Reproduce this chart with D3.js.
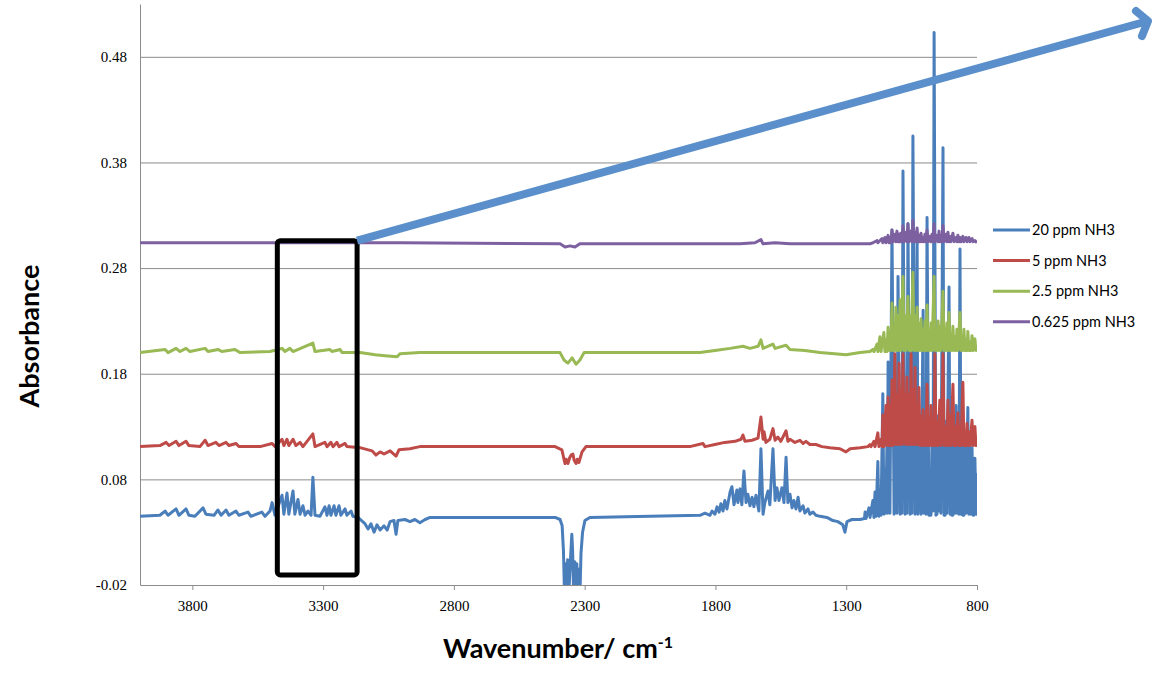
<!DOCTYPE html>
<html>
<head>
<meta charset="utf-8">
<script src="https://d3js.org/d3.v7.min.js"></script>
<style>
  body { margin: 0; background: #fff; }
  svg { display: block; }
</style>
</head>
<body>
<script>
// axis ticks
const xTicks = [3800, 3300, 2800, 2300, 1800, 1300, 800];
const yTicks = [-0.02, 0.08, 0.18, 0.28, 0.38, 0.48];

const seriesNames = ["20 ppm NH3", "5 ppm NH3", "2.5 ppm NH3", "0.625 ppm NH3"];
const seriesColors = ["#4A7EBB", "#BE4B48", "#98B954", "#7D60A0"];

// [wavenumber, absorbance]
const nh3_20 = [
  [4000,0.045],[3924,0.046],[3904,0.050],[3893,0.046],[3862,0.052],[3851,0.046],[3824,0.052],[3813,0.046],
  [3790,0.045],[3759,0.053],[3748,0.047],[3717,0.046],[3702,0.051],[3690,0.046],[3671,0.051],[3660,0.046],
  [3633,0.050],[3622,0.046],[3587,0.049],[3576,0.045],[3534,0.049],[3522,0.045],[3503,0.050],[3495,0.058],
  [3484,0.046],[3457,0.065],[3450,0.047],[3438,0.067],[3431,0.047],[3415,0.069],[3408,0.047],[3396,0.061],
  [3388,0.047],[3377,0.055],[3369,0.046],[3358,0.050],[3346,0.046],[3339,0.082],[3331,0.046],[3312,0.045],
  [3293,0.054],[3285,0.046],[3277,0.055],[3270,0.046],[3258,0.055],[3251,0.046],[3239,0.055],[3232,0.046],
  [3216,0.052],[3209,0.046],[3193,0.050],[3186,0.045],[3167,0.044],[3140,0.038],[3128,0.033],[3117,0.038],
  [3105,0.030],[3094,0.037],[3082,0.032],[3067,0.036],[3055,0.032],[3044,0.040],[3029,0.041],[3021,0.028],
  [3014,0.041],[2987,0.042],[2968,0.040],[2949,0.042],[2930,0.039],[2910,0.042],[2891,0.044],[2624,0.044],
  [2413,0.044],[2394,0.042],[2386,0.036],[2381,0.012],[2377,-0.03],[2373,0.000],[2369,-0.03],[2365,0.004],
  [2361,-0.03],[2357,-0.01],[2353,0.010],[2349,0.028],[2346,0.012],[2342,-0.03],[2338,0.002],[2334,-0.03],
  [2330,0.000],[2326,-0.03],[2322,-0.005],[2318,-0.03],[2314,0.010],[2308,0.030],[2299,0.041],[2280,0.044],
  [2050,0.045],[1859,0.046],[1840,0.048],
  [1821,0.046],[1813,0.050],[1802,0.047],[1794,0.054],[1786,0.049],[1779,0.057],[1771,0.050],[1764,0.060],
  [1756,0.052],[1744,0.068],[1737,0.073],[1729,0.056],[1718,0.070],[1714,0.058],[1706,0.071],[1699,0.056],
  [1691,0.088],[1683,0.058],[1676,0.066],[1668,0.055],[1660,0.063],[1653,0.054],[1645,0.065],[1634,0.050],
  [1626,0.109],[1618,0.047],[1611,0.058],[1599,0.069],[1592,0.056],[1580,0.109],[1572,0.060],[1565,0.072],
  [1557,0.060],[1546,0.072],[1538,0.058],[1530,0.101],[1523,0.058],[1515,0.066],[1507,0.053],[1500,0.060],
  [1492,0.052],[1484,0.063],[1477,0.050],[1465,0.055],[1458,0.048],[1446,0.052],[1439,0.047],[1427,0.049],
  [1416,0.046],[1400,0.045],[1374,0.044],[1351,0.041],[1332,0.040],[1313,0.037],[1305,0.030],[1297,0.040],
  [1278,0.042],[1247,0.042],[1230,0.043],[1228,0.049],[1224,0.043],[1213,0.053],[1209,0.044],[1198,0.060],
  [1194,0.044],[1190,0.068],[1186,0.045],[1179,0.097],[1175,0.045],[1171,0.070],[1167,0.046],[1160,0.161],
  [1156,0.047],[1152,0.090],[1148,0.048],[1144,0.120],[1142,0.048],
  [1140,0.191],[1133,0.048],[1125,0.316],[1117,0.047],[1114,0.140],[1106,0.048],[1102,0.272],[1094,0.047],
  [1091,0.150],[1087,0.048],[1083,0.372],[1075,0.047],[1072,0.155],[1068,0.048],[1064,0.322],[1056,0.047],
  [1052,0.160],[1049,0.048],[1045,0.405],[1037,0.047],[1029,0.313],[1026,0.047],[1022,0.140],[1014,0.047],
  [1006,0.240],[1003,0.048],[999,0.130],[995,0.047],[991,0.328],[984,0.046],[976,0.046],[972,0.120],
  [968,0.050],[964,0.503],[957,0.046],[953,0.047],[949,0.140],[945,0.050],[942,0.145],[938,0.048],
  [930,0.394],[926,0.046],[922,0.046],[919,0.135],[915,0.048],[907,0.262],[903,0.047],[900,0.125],
  [896,0.046],[892,0.046],[888,0.130],[884,0.048],[880,0.150],[877,0.048],[873,0.125],[869,0.047],
  [865,0.298],[861,0.047],[857,0.120],[854,0.046],[850,0.046],[846,0.125],[842,0.048],[835,0.148],
  [831,0.047],[827,0.115],[823,0.047],[819,0.110],[815,0.046],[812,0.046],[808,0.100],[804,0.047],[800,0.086]
];

const nh3_5 = [
  [4000,0.111],[3924,0.112],[3900,0.115],[3889,0.112],[3862,0.116],[3851,0.112],[3824,0.116],[3813,0.112],
  [3771,0.111],[3751,0.117],[3740,0.112],[3710,0.115],[3698,0.112],[3671,0.115],[3660,0.112],[3633,0.114],
  [3622,0.111],[3541,0.111],[3495,0.114],[3484,0.111],[3457,0.118],[3450,0.112],[3438,0.118],[3431,0.112],
  [3415,0.118],[3404,0.112],[3388,0.115],[3377,0.111],[3339,0.123],[3331,0.111],[3293,0.115],[3285,0.111],
  [3270,0.115],[3262,0.111],[3247,0.115],[3239,0.111],[3216,0.114],[3209,0.111],[3159,0.110],[3113,0.107],
  [3098,0.103],[3082,0.106],[3067,0.104],[3044,0.107],[3021,0.102],[3010,0.108],[2968,0.109],[2930,0.111],
  [2413,0.111],[2387,0.108],[2379,0.099],[2375,0.095],[2371,0.099],[2364,0.095],[2358,0.100],[2352,0.103],
  [2345,0.104],[2340,0.098],[2333,0.095],[2328,0.099],[2322,0.096],[2310,0.106],[2295,0.111],
  [1898,0.111],[1848,0.114],[1840,0.111],[1802,0.113],[1764,0.115],[1725,0.116],
  [1702,0.118],[1695,0.122],[1687,0.116],[1660,0.117],[1637,0.119],[1626,0.139],[1618,0.118],[1614,0.125],
  [1607,0.115],[1592,0.118],[1580,0.128],[1572,0.117],[1561,0.120],[1550,0.116],[1530,0.126],[1523,0.116],
  [1515,0.118],[1496,0.115],[1477,0.117],[1465,0.114],[1454,0.116],[1439,0.113],[1416,0.113],[1393,0.111],
  [1362,0.110],[1324,0.109],[1301,0.106],[1285,0.109],[1247,0.110],[1217,0.111],[1209,0.113],[1205,0.111],
  [1194,0.116],[1190,0.111],[1179,0.124],[1175,0.111],[1167,0.118],[1163,0.111],[1160,0.141],[1156,0.111],
  [1148,0.150],[1144,0.112],[1140,0.158],[1136,0.112],[1133,0.150],[1129,0.112],[1125,0.174],[1121,0.112],
  [1117,0.150],[1114,0.199],[1110,0.113],[1106,0.160],[1102,0.113],[1098,0.190],[1094,0.113],[1091,0.165],
  [1087,0.113],[1083,0.199],[1079,0.114],[1075,0.160],[1072,0.113],[1068,0.177],[1064,0.113],[1060,0.160],
  [1056,0.113],[1052,0.199],[1049,0.113],[1045,0.165],[1041,0.113],[1037,0.186],[1033,0.113],[1029,0.150],
  [1026,0.113],[1022,0.167],[1018,0.112],[1014,0.140],[1010,0.112],[1006,0.146],[1003,0.112],[999,0.135],
  [995,0.112],[991,0.170],[987,0.112],[984,0.130],[980,0.112],[976,0.150],[972,0.112],[968,0.135],
  [964,0.112],[961,0.199],[957,0.112],[953,0.135],[949,0.112],[942,0.155],[938,0.112],[934,0.140],
  [930,0.199],[926,0.112],[919,0.130],[915,0.112],[911,0.155],[907,0.112],[903,0.140],[900,0.112],
  [892,0.170],[888,0.112],[884,0.130],[880,0.112],[873,0.143],[869,0.112],[865,0.130],[861,0.112],
  [854,0.172],[850,0.112],[846,0.125],[842,0.112],[838,0.133],[835,0.112],[831,0.125],[827,0.112],
  [819,0.136],[815,0.112],[812,0.128],[808,0.130],[804,0.112],[800,0.120]
];

const nh3_2_5 = [
  [4000,0.200],[3904,0.203],[3893,0.200],[3862,0.204],[3847,0.201],[3824,0.204],[3809,0.201],[3751,0.204],
  [3740,0.201],[3702,0.203],[3687,0.201],[3637,0.203],[3618,0.200],[3503,0.201],[3457,0.204],[3446,0.201],
  [3427,0.204],[3415,0.201],[3339,0.209],[3331,0.201],[3274,0.203],[3266,0.201],[3235,0.203],[3228,0.200],
  [3159,0.200],[3101,0.198],[3063,0.197],[3017,0.196],[3006,0.199],[2930,0.200],[2394,0.200],[2379,0.193],
  [2364,0.190],[2348,0.195],[2333,0.189],[2318,0.193],[2302,0.200],[1859,0.200],[1802,0.202],[1744,0.204],
  [1695,0.206],[1668,0.204],[1637,0.206],[1626,0.212],[1618,0.204],[1580,0.208],[1572,0.204],[1530,0.207],
  [1515,0.203],[1458,0.202],[1400,0.200],[1301,0.198],[1247,0.200],[1209,0.201],[1198,0.203],[1194,0.201],
  [1182,0.208],[1179,0.201],[1171,0.215],[1167,0.201],[1156,0.219],[1152,0.201],[1148,0.212],[1144,0.201],
  [1140,0.224],[1136,0.202],[1133,0.220],[1129,0.202],[1125,0.247],[1121,0.202],[1117,0.225],[1114,0.202],
  [1110,0.243],[1106,0.202],[1102,0.235],[1098,0.202],[1094,0.250],[1091,0.202],[1083,0.272],[1079,0.202],
  [1075,0.235],[1072,0.202],[1064,0.253],[1060,0.202],[1056,0.235],[1052,0.202],[1045,0.276],[1041,0.202],
  [1037,0.235],[1033,0.202],[1029,0.243],[1026,0.202],[1022,0.228],[1018,0.202],[1014,0.232],[1010,0.202],
  [1006,0.222],[1003,0.202],[999,0.230],[995,0.202],[991,0.245],[987,0.202],[984,0.220],[980,0.202],
  [976,0.228],[972,0.202],[964,0.272],[961,0.202],[957,0.222],[953,0.202],[949,0.230],[945,0.202],
  [942,0.225],[938,0.202],[930,0.258],[926,0.202],[922,0.222],[919,0.202],[915,0.228],[911,0.202],
  [907,0.238],[903,0.202],[900,0.218],[896,0.202],[892,0.225],[888,0.202],[884,0.215],[880,0.202],
  [877,0.222],[873,0.202],[865,0.238],[861,0.202],[857,0.215],[854,0.202],[850,0.222],[846,0.202],
  [842,0.212],[838,0.202],[835,0.220],[831,0.202],[827,0.210],[823,0.202],[819,0.216],[815,0.202],
  [812,0.210],[808,0.213],[804,0.202],[800,0.205]
];

const nh3_0_625 = [
  [4000,0.304],[3006,0.304],[2394,0.303],[2375,0.300],[2356,0.301],[2337,0.300],[2318,0.303],[1706,0.303],
  [1649,0.304],[1626,0.307],[1618,0.303],[1572,0.304],[1515,0.303],[1209,0.303],[1198,0.304],[1182,0.306],
  [1179,0.304],[1163,0.308],[1160,0.304],[1152,0.309],[1148,0.304],[1140,0.311],[1136,0.304],[1133,0.309],
  [1129,0.304],[1125,0.316],[1121,0.305],[1114,0.312],[1110,0.305],[1106,0.315],[1102,0.305],[1098,0.312],
  [1094,0.305],[1091,0.313],[1087,0.305],[1083,0.320],[1079,0.305],[1072,0.314],[1068,0.305],[1064,0.322],
  [1060,0.305],[1052,0.315],[1049,0.305],[1045,0.325],[1041,0.305],[1037,0.314],[1033,0.305],[1029,0.318],
  [1026,0.305],[1022,0.311],[1018,0.305],[1014,0.313],[1010,0.305],[1006,0.309],[1003,0.305],[999,0.312],
  [995,0.305],[991,0.316],[987,0.305],[980,0.310],[976,0.305],[972,0.312],[968,0.305],[964,0.322],
  [961,0.305],[953,0.311],[949,0.305],[945,0.315],[942,0.305],[938,0.311],[934,0.305],[930,0.320],
  [926,0.305],[919,0.312],[915,0.305],[911,0.314],[907,0.305],[903,0.310],[900,0.305],[892,0.313],
  [888,0.305],[880,0.309],[877,0.305],[873,0.311],[869,0.305],[865,0.309],[861,0.305],[854,0.310],
  [850,0.305],[842,0.309],[838,0.305],[831,0.309],[827,0.305],[819,0.308],[815,0.305],[808,0.306],[800,0.304]
];

const spectra = [nh3_20, nh3_5, nh3_2_5, nh3_0_625];

// zoom box drawn on the chart, in data units
const boxWavenumbers = [3475, 3170];
const boxAbsorbance = [-0.0105, 0.306];

const width = 1152;
const height = 681;

const x = d3.scaleLinear().domain([4000, 800]).range([140, 977]);
const y = d3.scaleLinear().domain([-0.02, 0.53]).range([585, 4]);

const svg = d3.select("body").append("svg")
  .attr("width", width)
  .attr("height", height);

svg.append("defs").append("clipPath").attr("id", "plot-clip")
  .append("rect")
  .attr("x", x.range()[0]).attr("y", 0)
  .attr("width", x.range()[1] - x.range()[0])
  .attr("height", y(-0.02));

// gridlines
svg.append("g")
  .attr("transform", `translate(${x.range()[0]},0)`)
  .call(d3.axisLeft(y).tickValues(yTicks.filter(d => d > -0.02))
    .tickSize(-(x.range()[1] - x.range()[0])).tickFormat(""))
  .call(g => g.select(".domain").remove())
  .call(g => g.selectAll("line").attr("stroke", "#8c8c8c").attr("stroke-width", 1));

// y axis
svg.append("g")
  .attr("transform", `translate(${x.range()[0]},0)`)
  .call(d3.axisLeft(y).tickValues(yTicks).tickSize(0).tickPadding(13)
    .tickFormat(d => d.toFixed(2)))
  .call(g => g.select(".domain").attr("stroke", "#8c8c8c"))
  .call(g => g.selectAll("text")
    .attr("font-family", "'Liberation Serif', serif")
    .attr("font-size", 15).attr("fill", "#000"));

// x axis
svg.append("g")
  .attr("transform", `translate(0,${y(-0.02)})`)
  .call(d3.axisBottom(x).tickValues(xTicks).tickSize(5).tickSizeOuter(0).tickPadding(10)
    .tickFormat(d3.format("d")))
  .call(g => g.select(".domain").attr("stroke", "#8c8c8c"))
  .call(g => g.selectAll("line").attr("stroke", "#8c8c8c"))
  .call(g => g.selectAll("text")
    .attr("font-family", "'Liberation Serif', serif")
    .attr("font-size", 15).attr("fill", "#000"));

// spectra
const line = d3.line().x(d => x(d[0])).y(d => y(d[1]));
svg.append("g").attr("clip-path", "url(#plot-clip)")
  .selectAll("path")
  .data(spectra)
  .join("path")
  .attr("d", line)
  .attr("fill", "none")
  .attr("stroke", (d, i) => seriesColors[i])
  .attr("stroke-width", 3)
  .attr("stroke-linejoin", "round");

// axis titles
svg.append("text")
  .attr("transform", "translate(39,336) rotate(-90)")
  .attr("text-anchor", "middle")
  .attr("font-family", "Lato, sans-serif")
  .attr("font-weight", "bold")
  .attr("font-size", 27)
  .text("Absorbance");

const xTitle = svg.append("text")
  .attr("x", 558).attr("y", 658)
  .attr("text-anchor", "middle")
  .attr("font-family", "Lato, sans-serif")
  .attr("font-weight", "bold")
  .attr("font-size", 27);
xTitle.append("tspan").text("Wavenumber/ cm");
xTitle.append("tspan").attr("dy", -10).attr("font-size", 16).text("-1");

// legend
const legend = svg.append("g").attr("transform", "translate(993,230)");
const legendRow = legend.selectAll("g")
  .data(seriesNames)
  .join("g")
  .attr("transform", (d, i) => `translate(0,${i * 30.6})`);
legendRow.append("line")
  .attr("x1", 0).attr("x2", 37)
  .attr("stroke", (d, i) => seriesColors[i])
  .attr("stroke-width", 3);
legendRow.append("text")
  .attr("x", 39).attr("dy", "0.35em")
  .attr("font-family", "Lato, sans-serif")
  .attr("font-size", 14.5)
  .text(d => d);

// zoom box and arrow
const boxX0 = x(boxWavenumbers[0]), boxX1 = x(boxWavenumbers[1]);
const boxY0 = y(boxAbsorbance[1]), boxY1 = y(boxAbsorbance[0]);
svg.append("rect")
  .attr("x", boxX0).attr("y", boxY0)
  .attr("width", boxX1 - boxX0).attr("height", boxY1 - boxY0)
  .attr("rx", 3)
  .attr("fill", "none")
  .attr("stroke", "#000")
  .attr("stroke-width", 5);

const arrowColor = "#5A8FCB";
const tip = [1148, 21];
svg.append("line")
  .attr("x1", boxX1).attr("y1", boxY0)
  .attr("x2", tip[0]).attr("y2", tip[1])
  .attr("stroke", arrowColor).attr("stroke-width", 8);
svg.append("path")
  .attr("d", `M${tip[0] - 12},${tip[1] - 10}L${tip[0]},${tip[1]}L${tip[0] - 6},${tip[1] + 15}`)
  .attr("fill", "none")
  .attr("stroke", arrowColor).attr("stroke-width", 8)
  .attr("stroke-linecap", "round").attr("stroke-linejoin", "round");
</script>
</body>
</html>
